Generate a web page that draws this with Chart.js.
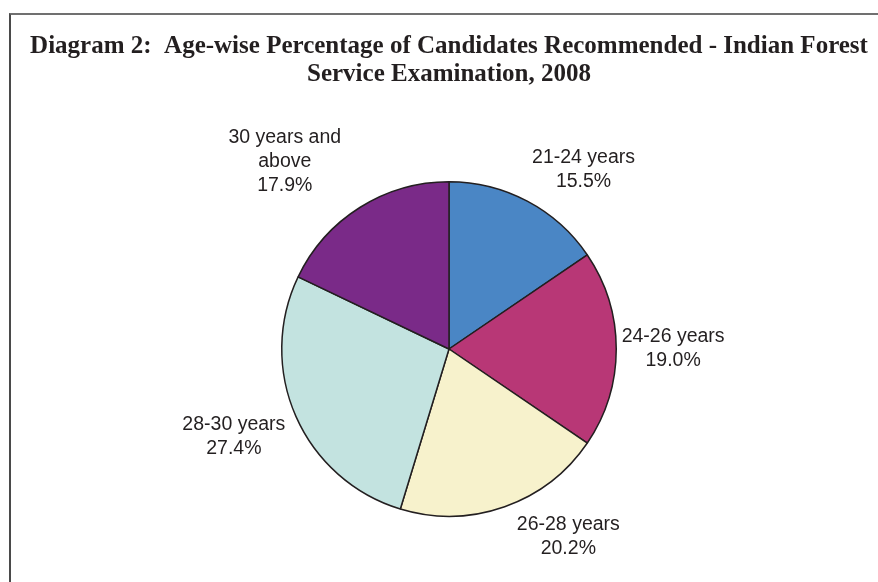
<!DOCTYPE html>
<html>
<head>
<meta charset="utf-8">
<title>Age-wise Percentage of Candidates Recommended</title>
<script src="https://cdn.jsdelivr.net/npm/chart.js@4.4.1/dist/chart.umd.min.js"></script>
<style>
    html, body { margin: 0; padding: 0; background: #fff; }
    #wrap { position: relative; width: 878px; height: 582px; overflow: hidden; }
    #frame {
        position: absolute; left: 9px; top: 13px; right: -5px; bottom: -5px;
        border-left: 2px solid #4a4a4a; border-top: 2px solid #707070;
    }
    #chart-box { position: absolute; left: 0; top: 0; width: 878px; height: 582px; }
</style>
</head>
<body>
<div id="wrap">
    <div id="frame"></div>
    <div id="chart-box"><canvas id="chart"></canvas></div>
</div>
<script>
// Data
const categories = ['21-24 years', '24-26 years', '26-28 years', '28-30 years', ['30 years and', 'above']];
const percentages = [15.5, 19.0, 20.2, 27.4, 17.9];
const sliceColors = ['#4a86c5', '#b83776', '#f7f2cc', '#c3e3e0', '#7a2a88'];
const titleLines = ['Diagram 2:  Age-wise Percentage of Candidates Recommended - Indian Forest', 'Service Examination, 2008'];

// Outside labels, placed from each arc's mid angle
const outsideLabels = {
    id: 'outsideLabels',
    afterDatasetsDraw(chart, args, opts) {
        const ctx = chart.ctx;
        const meta = chart.getDatasetMeta(0);
        ctx.save();
        ctx.font = opts.font;
        ctx.fillStyle = opts.color;
        ctx.textAlign = 'center';
        ctx.textBaseline = 'middle';
        meta.data.forEach((arc, i) => {
            const lines = [].concat(chart.data.labels[i], percentages[i].toFixed(1) + '%');
            const mid = (arc.startAngle + arc.endAngle) / 2 + (opts.angleShift[i] || 0) * Math.PI / 180;
            const dist = arc.outerRadius * (opts.factor[i] || 1.34);
            const cx = arc.x + Math.cos(mid) * dist;
            const cy = arc.y + Math.sin(mid) * dist;
            const top = cy - (lines.length - 1) * opts.lineHeight / 2;
            lines.forEach((t, j) => ctx.fillText(t, cx, top + j * opts.lineHeight));
        });
        ctx.restore();
    }
};

const ctx = document.getElementById('chart').getContext('2d');
const chart = new Chart(ctx, {
    type: 'pie',
    data: {
        labels: categories,
        datasets: [{
            data: percentages,
            backgroundColor: sliceColors,
            borderColor: '#231f20',
            borderWidth: 1.5
        }]
    },
    options: {
        responsive: true,
        maintainAspectRatio: false,
        animation: false,
        layout: { padding: { left: 20, right: 0, top: 0, bottom: 65 } },
        plugins: {
            legend: { display: false },
            tooltip: { enabled: false },
            title: {
                display: true,
                text: titleLines,
                color: '#231f20',
                font: { family: '"Liberation Serif", "Times New Roman", serif', size: 25, weight: 'bold', lineHeight: 1.12 },
                padding: { top: 33, bottom: 92 }
            },
            outsideLabels: {
                font: '19.5px "Liberation Sans", Arial, sans-serif',
                color: '#231f20',
                lineHeight: 24,
                factor: [1.34, 1.34, 1.33, 1.39, 1.49],
                angleShift: [9, 0, -13, 1.5, -9]
            }
        }
    },
    plugins: [outsideLabels]
});
</script>
</body>
</html>
